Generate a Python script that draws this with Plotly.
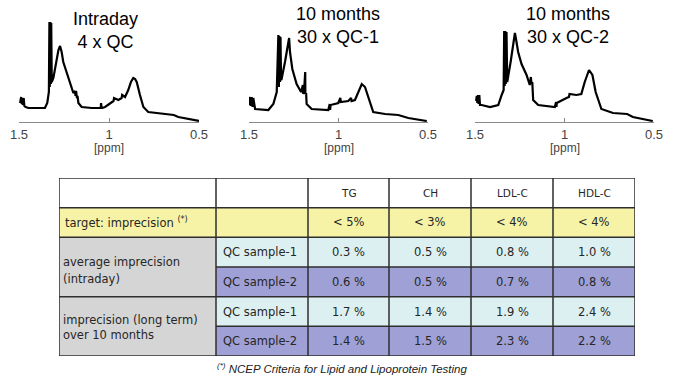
import plotly.graph_objects as go

# ---------------- spectra data (ppm, intensity) ----------------
ppm_intraday = [1.494, 1.488, 1.485, 1.482, 1.479, 1.474, 1.470, 1.463, 1.448, 1.356, 1.343, 1.334,
                1.331, 1.329, 1.326, 1.323, 1.321, 1.318, 1.309, 1.291, 1.281, 1.272, 1.263, 1.254,
                1.235, 1.217, 1.198, 1.189, 1.186, 1.183, 1.178, 1.175, 1.170, 1.152, 1.096, 1.046,
                1.044, 1.041, 1.037, 1.022, 0.985, 0.975, 0.972, 0.948, 0.930, 0.927, 0.911, 0.893,
                0.878, 0.865, 0.855, 0.846, 0.828, 0.809, 0.782, 0.726, 0.661, 0.640, 0.615, 0.559, 0.498]
int_intraday = [19, 25, 18, 24, 17, 24, 16, 15, 14, 14, 19, 30,
                100, 35, 100, 38, 99, 40, 44, 64, 72, 76, 70, 60,
                50, 40, 29, 31, 26, 31, 24, 26, 19, 15, 14, 14,
                19, 14, 14, 15, 20, 21, 24, 22, 24, 27, 25, 32,
                40, 44, 43, 40, 27, 15, 10, 9, 8, 7, 5, 3, 1]

ppm_qc1 = [1.500, 1.494, 1.490, 1.485, 1.480, 1.476, 1.466, 1.392, 1.364, 1.345, 1.336, 1.333,
           1.330, 1.327, 1.324, 1.321, 1.318, 1.299, 1.285, 1.280, 1.276, 1.271, 1.258, 1.234,
           1.209, 1.199, 1.197, 1.192, 1.186, 1.185, 1.181, 1.178, 1.150, 1.057, 1.049, 1.047,
           1.044, 1.001, 0.990, 0.987, 0.945, 0.930, 0.927, 0.908, 0.889, 0.870, 0.852, 0.830,
           0.806, 0.740, 0.690, 0.666, 0.610, 0.507]
int_qc1 = [17, 25, 16, 25, 15, 24, 13, 12, 18, 30, 87, 35,
           86, 40, 85, 42, 43, 60, 76, 83, 84, 70, 53, 38,
           30, 37, 28, 32, 50, 28, 29, 18, 13, 12, 18, 12,
           17, 19, 24, 20, 21, 24, 21, 22, 30, 38, 35, 22,
           10, 8, 7, 7, 4, 1]

ppm_qc2 = [1.494, 1.490, 1.487, 1.483, 1.480, 1.476, 1.472, 1.463, 1.416, 1.370, 1.351, 1.340,
           1.337, 1.334, 1.331, 1.328, 1.324, 1.320, 1.301, 1.285, 1.277, 1.270, 1.259, 1.240,
           1.212, 1.194, 1.188, 1.184, 1.180, 1.175, 1.147, 1.054, 1.047, 1.045, 1.043, 0.989,
           0.975, 0.972, 0.934, 0.906, 0.887, 0.863, 0.844, 0.826, 0.794, 0.729, 0.674, 0.650,
           0.618, 0.507]
int_qc2 = [21, 26, 19, 27, 18, 27, 17, 17, 15, 17, 27, 32,
           91, 36, 91, 38, 90, 40, 60, 80, 89, 82, 70, 58,
           47, 37, 45, 38, 40, 22, 17, 15, 20, 15, 19, 24,
           25, 28, 27, 28, 40, 52, 47, 30, 13, 9, 8, 8,
           5, 1]

spectra = [
    ("Intraday<br>4 x QC", ppm_intraday, int_intraday),
    ("10 months<br>30 x QC-1", ppm_qc1, int_qc1),
    ("10 months<br>30 x QC-2", ppm_qc2, int_qc2),
]
ppm_ticks = [1.5, 1.0, 0.5]
ppm_tick_labels = ["1.5", "1", "0.5"]
ppm_unit = "[ppm]"

# ---------------- table data ----------------
analytes = ["TG", "CH", "LDL-C", "HDL-C"]
target_values = ["< 5%", "< 3%", "< 4%", "< 4%"]
intraday_qc1 = [0.3, 0.5, 0.8, 1.0]
intraday_qc2 = [0.6, 0.5, 0.7, 0.8]
longterm_qc1 = [1.7, 1.4, 1.9, 2.4]
longterm_qc2 = [1.4, 1.5, 2.3, 2.2]
sample_labels = ["QC sample-1", "QC sample-2", "QC sample-1", "QC sample-2"]
group_intraday = ["average imprecision", "(intraday)"]
group_longterm = ["imprecision (long term)", "over 10 months"]
target_label = "target: imprecision <sup>(*)</sup>"
footnote = "<sup>(*)</sup> NCEP Criteria for Lipid and Lipoprotein Testing"

W, H = 673, 379
fig = go.Figure()
TICK_FONT = dict(family="Liberation Sans, Arial", size=13, color="#444")

# ---------------- spectra ----------------
x_domains = [(19, 199), (249, 428), (475, 654)]
title_pos = [(105, 30), (338, 26), (568, 26)]
for i, (title, px, py) in enumerate(spectra):
    k = "" if i == 0 else str(i + 1)
    fig.add_trace(go.Scatter(x=px, y=py, mode="lines", line=dict(color="black", width=2.2),
                             xaxis="x" + k, yaxis="y" + k, showlegend=False, hoverinfo="skip"))
    d0, d1 = x_domains[i]
    fig.update_layout(**{
        "xaxis" + k: dict(domain=[d0 / W, d1 / W], range=[1.5, 0.5], anchor="y" + k,
                          showline=True, linecolor="#8a8a8a", linewidth=1,
                          ticks="inside", ticklen=4, tickcolor="#8a8a8a",
                          tickvals=ppm_ticks, ticktext=ppm_tick_labels,
                          tickfont=TICK_FONT, automargin=False,
                          showgrid=False, zeroline=False, fixedrange=True),
        "yaxis" + k: dict(domain=[1 - 122 / H, 1 - 20 / H], range=[0, 102], anchor="x" + k,
                          visible=False, automargin=False, fixedrange=True),
    })
    fig.add_annotation(x=(d0 + d1) / 2 / W, y=1 - 148 / H, xref="paper", yref="paper", text=ppm_unit,
                       showarrow=False, xanchor="center", yanchor="middle",
                       font=dict(family="Liberation Sans, Arial", size=12, color="#444"))
    tx, ty = title_pos[i]
    fig.add_annotation(x=tx / W, y=1 - ty / H, xref="paper", yref="paper", text=title,
                       showarrow=False, xanchor="center", yanchor="middle",
                       font=dict(family="Liberation Sans, Arial", size=18, color="black"))

# ---------------- table ----------------
col_edges = [0, 157, 249, 330, 412, 494, 576]
n_rows = 6
fig.update_layout(
    xaxis4=dict(domain=[59 / W, 635 / W], range=[0, 576], anchor="y4", visible=False,
                fixedrange=True, automargin=False),
    yaxis4=dict(domain=[1 - 356 / H, 1 - 178 / H], range=[n_rows, 0], anchor="x4", visible=False,
                fixedrange=True, automargin=False),
)

WHITE, YELLOW, GRAY, LIGHT, PURPLE = "#ffffff", "#f6f3a6", "#d5d5d5", "#ddf0f1", "#9fa0d6"
row_fill = [WHITE, YELLOW, LIGHT, PURPLE, LIGHT, PURPLE]

def rect(x0, x1, y0, y1, color):
    fig.add_shape(type="rect", xref="x4", yref="y4", x0=x0, x1=x1, y0=y0, y1=y1,
                  fillcolor=color, line=dict(width=0), layer="below")

for r in range(n_rows):
    rect(col_edges[1], col_edges[-1], r, r + 1, row_fill[r])
rect(col_edges[0], col_edges[1], 0, 1, WHITE)
rect(col_edges[0], col_edges[1], 1, 2, YELLOW)
rect(col_edges[0], col_edges[1], 2, 6, GRAY)

BORDER = dict(color="#2e2e2e", width=1.5)
for r in [0, 1, 2, 4, 6]:
    fig.add_shape(type="line", xref="x4", yref="y4", x0=col_edges[0], x1=col_edges[-1], y0=r, y1=r, line=BORDER)
for r in [3, 5]:
    fig.add_shape(type="line", xref="x4", yref="y4", x0=col_edges[1], x1=col_edges[-1], y0=r, y1=r, line=BORDER)
for c in col_edges:
    fig.add_shape(type="line", xref="x4", yref="y4", x0=c, x1=c, y0=0, y1=n_rows, line=BORDER)

CELL_FONT = dict(family="DejaVu Sans, Verdana", size=11.5, color="#262626")
def cell_text(x, y, text, anchor="center", size=None):
    f = dict(CELL_FONT)
    if size:
        f["size"] = size
    fig.add_annotation(x=x, y=y, xref="x4", yref="y4", text=text, showarrow=False,
                       xanchor=anchor, yanchor="middle", align="left", font=f)

centers = [(col_edges[j] + col_edges[j + 1]) / 2 for j in range(2, 6)]
for j, name in enumerate(analytes):
    cell_text(centers[j], 0.5, name, size=10.5)
    cell_text(centers[j], 1.5, target_values[j])
value_rows = [intraday_qc1, intraday_qc2, longterm_qc1, longterm_qc2]
for r, vals in enumerate(value_rows):
    for j, v in enumerate(vals):
        cell_text(centers[j], r + 2.5, f"{v:.1f} %")
    cell_text(col_edges[1] + 5, r + 2.5, sample_labels[r], anchor="left")
cell_text(col_edges[0] + 4, 1.5, target_label, anchor="left")
for line, yy in zip(group_intraday, [2.82, 3.40]):
    cell_text(col_edges[0] + 2, yy, line, anchor="left")
for line, yy in zip(group_longterm, [4.79, 5.30]):
    cell_text(col_edges[0] + 2, yy, line, anchor="left")

fig.add_annotation(x=342 / W, y=1 - 368 / H, xref="paper", yref="paper", text="<i>" + footnote + "</i>",
                   showarrow=False, xanchor="center", yanchor="middle",
                   font=dict(family="Liberation Sans, Arial", size=11.5, color="#222"))

fig.update_layout(width=W, height=H, margin=dict(l=0, r=0, t=0, b=0, autoexpand=False),
                  paper_bgcolor="white", plot_bgcolor="white", showlegend=False)
fig.write_html("out.html", config={"displayModeBar": False},
               post_script="document.body.style.margin='0';document.body.style.overflow='hidden';")
